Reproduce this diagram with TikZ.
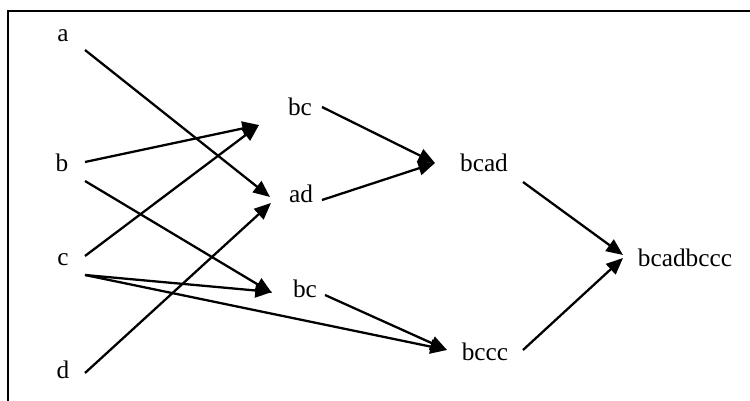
\documentclass[tikz,border=0pt]{standalone}
\usepackage{fontspec}
\setmainfont{Liberation Serif}
\usetikzlibrary{arrows.meta}

\tikzset{>={Triangle[length=9.5pt,width=8pt]},every node/.style={font=\fontsize{14.4pt}{17pt}\selectfont,text height=0.7em,text depth=0.2em,inner sep=0pt}}

\begin{document}
\begin{tikzpicture}[line width=1.3pt]
    \useasboundingbox (0,0) rectangle (15,8.02);
    \draw[line width=1.1pt] (0.16,0) -- (0.16,7.8) -- (15,7.8);
    \foreach \n/\t/\x/\y in {a/a/1.26/7.286,b/b/1.24/4.686,c/c/1.26/2.806,d/d/1.26/0.546,
        bc1/bc/6.00/5.806,ad/ad/6.02/4.066,bc2/bc/6.10/2.166,
        bcad/bcad/9.68/4.686,bccc/bccc/9.70/0.906,bcadbccc/bcadbccc/13.70/2.786}{
    	     \node (\n) at (\x,\y) {\t};
    }
    \foreach \s/\sx/\sy/\e/\ex/\ey in {a/.44/-.266/ad/-.62/.014,
        b/.46/.094/bc1/-.82/-.286, b/.46/-.286/bc2/-.66/-.006,
        c/.44/.094/bc1/-.82/-.286, c/.44/-.286/bc2/-.66/.014,
        c/.44/-.286/bccc/-.76/.114, d/.44/.014/ad/-.60/-.106,
        bc1/.44/.074/bcad/-.98/.074, ad/.42/-.046/bcad/-.98/.074,
        bc2/.40/-.046/bccc/-.76/.114,
        bcad/.78/-.306/bcadbccc/-1.24/.134, bccc/.76/.114/bcadbccc/-1.24/.074}{
    	     \draw[->] ([shift={(\sx,\sy)}]\s.center) -- ([shift={(\ex,\ey)}]\e.center);
    }
\end{tikzpicture}
\end{document}
